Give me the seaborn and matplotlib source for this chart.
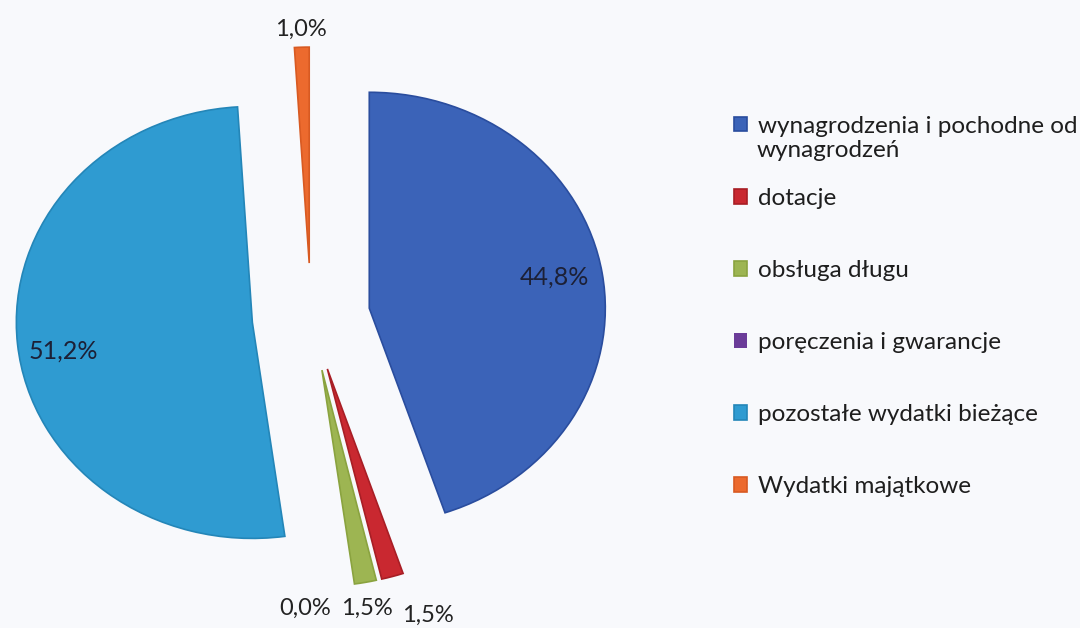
import matplotlib.pyplot as plt
import seaborn as sns

categories = ['wynagrodzenia i pochodne od', 'dotacje', 'obsługa długu',
              'poręczenia i gwarancje', 'pozostałe wydatki bieżące', 'Wydatki majątkowe']
first_label_tail = 'wynagrodzeń'
shares = [44.8, 1.5, 1.5, 0.0, 51.2, 1.0]
colors = ['#3b63b8', '#c92830', '#9db552', '#6b3c99', '#2f9bd1', '#ec6a2e']
edge_colors = ['#2a4d9e', '#a81e25', '#8aa33f', '#5a2f85', '#2486b8', '#d85a22']

sns.set_theme(style='white')
plt.rcParams['font.family'] = ['Lato', 'DejaVu Sans']

fig = plt.figure(figsize=(10.8, 6.28), dpi=100)
fig.patch.set_facecolor('#f8f9fc')
ax = fig.add_axes([0, 0, 1, 1])
ax.set_facecolor('#f8f9fc')

wedges, texts, autotexts = ax.pie(
    shares, explode=[0.25] * len(shares), startangle=90, counterclock=False,
    colors=colors, pctdistance=0.83,
    autopct=lambda p: f'{p:.1f}%'.replace('.', ','),
    wedgeprops=dict(linewidth=1.2),
    textprops=dict(fontsize=18, color='#1c2036'))
for w, ec in zip(wedges, edge_colors):
    w.set_edgecolor(ec)
wedges[3].set_linewidth(0)

# stretched like the scanned original
ax.set_aspect('auto')
ax.set_xlim(-1.318, 3.258)
ax.set_ylim(-1.44, 1.468)
ax.axis('off')

# label spots
big_pos = {0: (1.03, 0.185), 4: (-1.05, -0.16)}
small_pos = {1: (0.496, -1.38), 2: (0.237, -1.347), 3: (-0.025, -1.347), 5: (-0.042, 1.33)}
for i, (x, y) in big_pos.items():
    autotexts[i].set_position((x, y))
for i, (x, y) in small_pos.items():
    autotexts[i].set_position((x, y))
    autotexts[i].set_color('#222222')
    autotexts[i].set_fontsize(17)

leg = fig.legend(wedges, categories, loc='upper left', bbox_to_anchor=(0.668, 0.835),
                 frameon=False, fontsize=17.5, handlelength=0.55, handleheight=0.55,
                 handletextpad=0.45, labelspacing=2.1, borderpad=0)
for t in leg.get_texts():
    t.set_color('#1e1e1e')
fig.text(0.701, 0.761, first_label_tail, fontsize=17.5, color='#1e1e1e', va='center')

fig.savefig('out.png', dpi=100, facecolor=fig.get_facecolor())
